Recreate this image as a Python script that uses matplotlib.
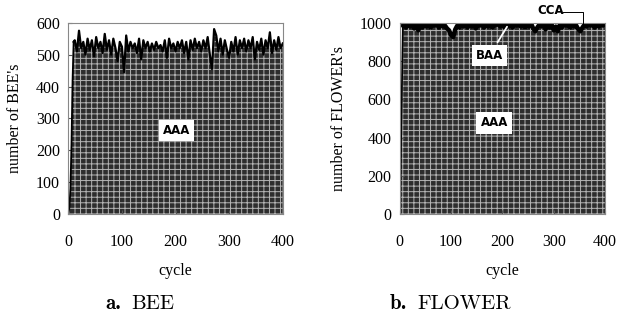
import matplotlib.pyplot as plt
import numpy as np

plt.rcParams['font.family'] = ['Liberation Serif', 'DejaVu Serif']
plt.rcParams['hatch.linewidth'] = 0.7

# BEE: ramp up, then every 4 cycles from 12 to 400
bee_cycle = [0, 2, 4, 6, 8, 10] + list(range(12, 401, 4))
bee_count = [0, 20, 80, 220, 420, 540,
             545, 510, 575, 520, 540, 500, 550, 515, 545, 495,
             555, 520, 540, 505, 565, 515, 545, 500, 550, 520,
             480, 540, 525, 445, 560, 510, 540, 520, 535, 505,
             550, 485, 545, 520, 540, 510, 535, 515, 540, 520,
             530, 510, 545, 490, 550, 520, 535, 510, 540, 520,
             545, 505, 540, 485, 545, 515, 550, 520, 540, 510,
             545, 520, 555, 500, 455, 580, 560, 510, 550, 500,
             545, 515, 490, 540, 510, 555, 500, 545, 520, 550,
             510, 545, 520, 555, 485, 540, 515, 550, 500, 545,
             520, 570, 505, 545, 515, 555, 520, 535]

# FLOWER: ramp up, then every 4 cycles from 8 to 400
flower_cycle = [0, 3, 6] + list(range(8, 401, 4))
flower_count = [0, 500, 985,
                990, 975, 995, 980, 990, 970, 995, 960, 985, 975,
                990, 980, 995, 975, 990, 985, 995, 975, 990, 980,
                985, 970, 960, 935, 925, 965, 985, 975, 990, 980,
                995, 975, 990, 980, 995, 970, 990, 985, 995, 975,
                990, 980, 995, 975, 985, 990, 995, 980, 990, 975,
                995, 980, 990, 975, 995, 985, 990, 980, 995, 975,
                990, 980, 995, 970, 955, 975, 990, 980, 995, 965,
                985, 975, 990, 960, 980, 955, 990, 975, 995, 985,
                990, 975, 995, 980, 985, 965, 955, 975, 990, 980,
                995, 985, 990, 975, 995, 980, 990, 985, 995]

fig = plt.figure(figsize=(6.18, 3.2), dpi=100)
ax1 = fig.add_axes([0.1105, 0.331, 0.347, 0.598])
ax2 = fig.add_axes([0.647, 0.331, 0.332, 0.598])


def panel(ax, xs, ys, ymax, ystep, ylabel, lw, nramp):
    ax.fill_between(xs, 0, ys, facecolor='#2d2d2d', edgecolor='#b4b4b4',
                    linewidth=0, hatch='+++', zorder=1)
    # thin line on the initial rise, heavier on the noisy plateau
    ax.plot(xs[:nramp + 1], ys[:nramp + 1], color='black', lw=1.3, zorder=2)
    ax.plot(xs[nramp:], ys[nramp:], color='black', lw=lw, zorder=2)
    ax.set_xlim(0, 400)
    ax.set_ylim(0, ymax)
    ax.set_xticks(range(0, 401, 100))
    ax.set_yticks(range(0, ymax + 1, ystep))
    for s in ax.spines.values():
        s.set_color('#888888')
        s.set_linewidth(0.8)
    ax.tick_params(axis='y', direction='in', length=3, color='#555555',
                   labelsize=11.5, pad=6)
    ax.tick_params(axis='x', direction='in', length=3, color='#555555',
                   labelsize=11.5, pad=14)
    ax.set_xlabel('cycle', fontsize=11.5, labelpad=10)
    ax.set_ylabel(ylabel, fontsize=11.5, labelpad=9)


panel(ax1, bee_cycle, bee_count, 600, 100, "number of BEE's", 1.6, 5)
panel(ax2, flower_cycle, flower_count, 1000, 200, "number of FLOWER's", 3.2, 2)

lab = dict(family=['Liberation Sans Narrow', 'DejaVu Sans'], weight='bold',
           fontsize=8.5, color='black', ha='center', va='center',
           bbox=dict(boxstyle='square,pad=0.35', facecolor='white',
                     edgecolor='none'), zorder=5)
ax1.text(202, 263, 'AAA', **lab)
ax2.text(184, 476, 'AAA', **lab)
ax2.annotate('BAA', xy=(209, 979), xytext=(175, 830),
             arrowprops=dict(arrowstyle='-', color='white', lw=1.3,
                             shrinkA=2, shrinkB=0), **lab)
ax2.text(295, 1063, 'CCA', family=['Liberation Sans Narrow', 'DejaVu Sans'],
         weight='bold', fontsize=8.5, ha='center', va='center',
         clip_on=False)
ax2.plot([318, 357, 357], [1058, 1058, 985], color='black', lw=0.7,
         clip_on=False, zorder=6)

fig.text(0.170, 0.035, 'a.', family='cmb10', fontsize=15)
fig.text(0.212, 0.035, 'BEE', family='cmr10', fontsize=15)
fig.text(0.631, 0.035, 'b.', family='cmb10', fontsize=15)
fig.text(0.675, 0.035, 'FLOWER', family='cmr10', fontsize=15)

fig.savefig('out.png', dpi=100)
